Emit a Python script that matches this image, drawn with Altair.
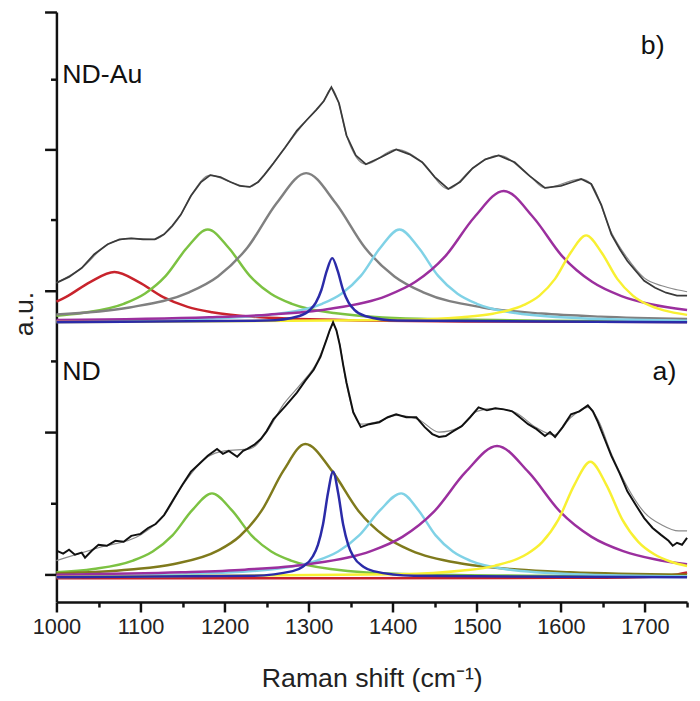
import altair as alt
import pandas as pd

# ---------------- Upper spectrum: ND-Au (b) ----------------
AU_RED_X = [1000, 1011, 1040, 1069, 1098, 1127, 1156, 1185, 1243, 1359, 1500, 1750]
AU_RED_Y = [303, 307.5, 322.8, 333, 322.8, 307.5, 297.7, 292.2, 287.1, 284, 282.9, 282.3]

AU_GREEN_X = [1000, 1030, 1080, 1105, 1130, 1155, 1180, 1205, 1230, 1255, 1280, 1330, 1430, 1750]
AU_GREEN_Y = [288.7, 291.4, 300.8, 311, 329, 357.2, 376, 357.2, 329, 311, 300.8, 291.4, 285.6, 282.7]

AU_GRAY_X = [1000, 1087, 1157, 1192, 1227, 1262, 1297, 1332, 1367, 1402, 1437, 1507, 1577, 1647, 1750]
AU_GRAY_Y = [290, 297.1, 312.2, 328.5, 357.5, 402.8, 433, 402.8, 357.5, 328.5, 312.2, 297.1, 290.9, 287.8, 285.5]

AU_BLUE_X = [1000, 1250, 1289, 1302, 1308.5, 1315, 1321.5, 1328, 1334.5, 1341, 1347.5, 1354, 1367, 1406, 1750]
AU_BLUE_Y = [282.1, 283.8, 288.5, 295, 302, 314.5, 334, 347, 334, 314.5, 302, 295, 288.5, 283.8, 282.1]

AU_CYAN_X = [1000, 1178, 1270, 1316, 1339, 1362, 1385, 1408, 1431, 1454, 1477, 1500, 1546, 1638, 1750]
AU_CYAN_Y = [283.2, 285.6, 291.4, 300.8, 311, 329, 357.2, 376, 357.2, 329, 311, 300.8, 291.4, 285.6, 283.7]

AU_PURPLE_X = [1000, 1182, 1252, 1322, 1392, 1427, 1462, 1497, 1532, 1567, 1602, 1637, 1672, 1707, 1750]
AU_PURPLE_Y = [284.3, 287.1, 289.8, 295.3, 308.6, 323, 348.5, 388.4, 415, 388.4, 348.5, 323, 308.6, 300.3, 294.5]

AU_YELLOW_X = [1000, 1408, 1482, 1519, 1556, 1574.5, 1593, 1611.5, 1630, 1648.5, 1667, 1685.5, 1704, 1722.5, 1750]
AU_YELLOW_Y = [282.3, 284.4, 287.2, 290.8, 299.6, 309.1, 326, 352.4, 370, 352.4, 326, 309.1, 299.6, 294.1, 289.6]

AU_SPEC_X = [1000, 1015, 1030, 1045, 1061, 1075, 1089, 1103, 1117, 1128, 1138, 1148, 1160, 1172, 1183,
             1195, 1207, 1218, 1230, 1240, 1247, 1258, 1272, 1286, 1298, 1309, 1318, 1327, 1336, 1345,
             1356, 1368, 1386, 1404, 1420, 1435, 1450, 1466, 1480, 1495, 1510, 1526, 1545, 1563, 1581,
             1600, 1614, 1624, 1636, 1648, 1660, 1670, 1679, 1690, 1699, 1712, 1725, 1738, 1750]
AU_SPEC_Y = [322, 328, 337, 351, 361, 366, 367, 366, 366, 371, 380, 391, 410, 424, 431,
             429, 424, 420, 419, 424, 431, 443, 459, 476, 487, 497, 506, 520, 504, 471,
             451, 442, 449, 457, 452, 444, 429, 417, 424, 438, 447, 451, 444, 430, 418,
             420, 424, 427, 422, 401, 371, 356, 344, 333, 324, 317, 312, 309, 309]

AU_FIT_X = [1000, 1030, 1061, 1089, 1117, 1128, 1148, 1160, 1183, 1207, 1230, 1247, 1272, 1298, 1318,
            1327, 1336, 1345, 1368, 1404, 1435, 1466, 1495, 1526, 1563, 1581, 1624, 1636, 1660, 1679,
            1699, 1720, 1738, 1750]
AU_FIT_Y = [322, 337, 361, 367, 366, 371, 391, 410, 431, 424, 419, 431, 459, 487, 506,
            519, 503, 471, 442, 457, 444, 417, 438, 451, 430, 418, 427, 422, 373, 347,
            327, 319, 315, 313]

# ---------------- Lower spectrum: ND (a) ----------------
ND_RED_X = [1000, 1600, 1700, 1730, 1750]
ND_RED_Y = [23, 23.5, 24.5, 26, 29]

ND_GREEN_X = [1000, 1044, 1091, 1114.5, 1138, 1161.5, 1185, 1208.5, 1232, 1255.5, 1279, 1326, 1420, 1750]
ND_GREEN_Y = [29.1, 32.5, 41, 50.2, 66.5, 92, 109, 92, 66.5, 50.2, 41, 32.5, 27.3, 24.6]

ND_OLIVE_X = [1000, 1088, 1140, 1192, 1218, 1244, 1270, 1296, 1327.5, 1359, 1390.5, 1422, 1485, 1548, 1611, 1750]
ND_OLIVE_Y = [28, 31.9, 37.5, 51, 65.6, 91.5, 132, 159, 132, 91.5, 65.6, 51, 37.5, 31.9, 29.2, 26.6]

ND_BLUE_X = [1000, 1233, 1281, 1293, 1305, 1311, 1317, 1323, 1329, 1335, 1341, 1347, 1353, 1365, 1377, 1425, 1750]
ND_BLUE_Y = [24.1, 25.6, 30.3, 34.7, 45.4, 57, 77.5, 109.6, 131, 109.6, 77.5, 57, 45.4, 34.7, 30.3, 25.6, 24.1]

ND_CYAN_X = [1000, 1160, 1260, 1310, 1335, 1360, 1385, 1410, 1430.5, 1451, 1471.5, 1492, 1533, 1615, 1750]
ND_CYAN_Y = [25.2, 27.3, 32.5, 41, 50.2, 66.5, 92, 109, 92, 66.5, 50.2, 41, 32.5, 27.3, 25.2]

ND_PURPLE_X = [1000, 1149, 1224, 1299, 1374, 1411.5, 1449, 1486.5, 1524, 1561.5, 1599, 1636.5, 1674, 1711.5, 1750]
ND_PURPLE_Y = [26.7, 29.1, 31.8, 37.3, 50.6, 65, 90.5, 130.4, 157, 130.4, 90.5, 65, 50.6, 42.3, 37.2]

ND_YELLOW_X = [1000, 1407, 1483, 1521, 1559, 1578, 1597, 1616, 1635, 1654, 1673, 1692, 1711, 1730, 1750]
ND_YELLOW_Y = [24.4, 27.2, 30.9, 35.7, 47.4, 60, 82.5, 117.6, 141, 117.6, 82.5, 60, 47.4, 40.1, 35.5]

ND_SPEC_X = [1000, 1008, 1015, 1022, 1030, 1034, 1042, 1050, 1060, 1070, 1080, 1089, 1100, 1109, 1118,
             1128, 1140, 1150, 1160, 1170, 1180, 1191, 1198, 1205, 1215, 1222, 1227, 1235, 1243, 1250,
             1258, 1272, 1286, 1296, 1306, 1314, 1321, 1325, 1329, 1333, 1337, 1341, 1345, 1353, 1362,
             1372, 1384, 1394, 1404, 1416, 1428, 1438, 1447, 1455, 1463, 1472, 1482, 1492, 1502, 1512,
             1522, 1532, 1542, 1551, 1561, 1571, 1581, 1587, 1593, 1602, 1612, 1622, 1632, 1638, 1644,
             1652, 1660, 1670, 1679, 1690, 1699, 1709, 1719, 1728, 1733, 1738, 1744, 1750]
ND_SPEC_Y = [51, 48, 52, 47, 49, 44, 51, 57, 56, 61, 60, 66, 68, 74, 78,
             87, 104, 118, 131, 139, 147, 154, 149, 152, 146, 152, 154, 158, 164, 172,
             184, 197, 211, 223, 234, 247, 264, 274, 282, 274, 259, 239, 221, 191, 176,
             179, 181, 186, 189, 186, 186, 176, 169, 166, 167, 172, 177, 186, 196, 193,
             195, 194, 192, 186, 179, 174, 167, 171, 166, 176, 189, 192, 198, 192, 181,
             164, 147, 129, 111, 96, 84, 74, 67, 61, 56, 59, 57, 64]

ND_FIT_X = [1000, 1050, 1100, 1130, 1150, 1180, 1200, 1230, 1250, 1270, 1290, 1310, 1322, 1329, 1336,
            1345, 1362, 1384, 1404, 1430, 1455, 1480, 1500, 1520, 1545, 1570, 1592, 1612, 1632, 1645,
            1660, 1680, 1700, 1720, 1740, 1750]
ND_FIT_Y = [41, 54, 67, 89, 117, 146, 152, 154, 171, 199, 219, 242, 266, 280, 264,
            219, 179, 182, 188, 184, 171, 176, 192, 195, 191, 176, 168, 186, 196, 182,
            149, 114, 89, 77, 71, 71]

# ---------------- Labels and ticks ----------------
LABELS = ["ND-Au", "b)", "ND", "a)"]
LABEL_X = [1007, 1695, 1007, 1709]
LABEL_V = [524, 554, 224, 224]

X_TICKS = [1000, 1050, 1100, 1150, 1200, 1250, 1300, 1350, 1400, 1450, 1500, 1550, 1600, 1650, 1700, 1750]
Y_TICKS = [27, 99, 171, 243, 314, 386, 457, 528, 596]

COMP_NAMES = ["au_red", "au_green", "au_gray", "au_cyan", "au_purple", "au_yellow", "au_blue",
              "nd_red", "nd_green", "nd_olive", "nd_cyan", "nd_purple", "nd_yellow", "nd_blue"]
COMP_COLORS = ["#c8232c", "#7cc242", "#808080", "#80d2e6", "#9b2f9e", "#f8f032", "#2b2ba8",
               "#c8232c", "#7cc242", "#7f7a1c", "#80d2e6", "#9b2f9e", "#f8f032", "#2b2ba8"]


def frame(name, xs, ys):
    return pd.DataFrame({"x": xs, "v": ys, "series": name, "i": list(range(len(xs)))})


comp = pd.concat([
    frame("au_red", AU_RED_X, AU_RED_Y),
    frame("au_green", AU_GREEN_X, AU_GREEN_Y),
    frame("au_gray", AU_GRAY_X, AU_GRAY_Y),
    frame("au_cyan", AU_CYAN_X, AU_CYAN_Y),
    frame("au_purple", AU_PURPLE_X, AU_PURPLE_Y),
    frame("au_yellow", AU_YELLOW_X, AU_YELLOW_Y),
    frame("au_blue", AU_BLUE_X, AU_BLUE_Y),
    frame("nd_red", ND_RED_X, ND_RED_Y),
    frame("nd_green", ND_GREEN_X, ND_GREEN_Y),
    frame("nd_olive", ND_OLIVE_X, ND_OLIVE_Y),
    frame("nd_cyan", ND_CYAN_X, ND_CYAN_Y),
    frame("nd_purple", ND_PURPLE_X, ND_PURPLE_Y),
    frame("nd_yellow", ND_YELLOW_X, ND_YELLOW_Y),
    frame("nd_blue", ND_BLUE_X, ND_BLUE_Y),
], ignore_index=True)

fits = pd.concat([
    frame("au_fit", AU_FIT_X, AU_FIT_Y),
    frame("nd_fit", ND_FIT_X, ND_FIT_Y),
], ignore_index=True)

spec_au = frame("au_spec", AU_SPEC_X, AU_SPEC_Y)
spec_nd = frame("nd_spec", ND_SPEC_X, ND_SPEC_Y)

labels = pd.DataFrame({"x": LABEL_X, "v": LABEL_V, "label": LABELS})

FONT = "Liberation Sans"
xscale = alt.Scale(domain=[1000, 1750], nice=False, zero=False)
yscale = alt.Scale(domain=[-1, 596], nice=False, zero=False)

x_axis = alt.Axis(
    orient="bottom", values=X_TICKS, format="d",
    labelExpr="datum.value % 100 === 0 ? datum.label : ''",
    tickSize=10, tickWidth=2.5, tickColor="#111",
    tickDash={"condition": {"test": "datum.value % 100 !== 0", "value": [5, 40]}, "value": []},
    domainColor="#111", domainWidth=2.5, grid=False,
    labelFont=FONT, labelFontSize=22, labelColor="#222", labelPadding=5,
    labelFlush=False, labelOverlap=False,
    titleFont=FONT, titleFontSize=27, titleFontWeight="normal", titleColor="#222",
    titleBaseline="alphabetic", titleY=85,
)
y_axis = alt.Axis(
    orient="left", values=Y_TICKS, labels=False,
    tickSize=12, tickWidth=2.5, tickColor="#111",
    tickDash={"condition": {"test": "indexof([99, 243, 386, 528], datum.value) >= 0", "value": [6, 40]}, "value": []},
    domainColor="#111", domainWidth=2.5, grid=False,
    titleFont=FONT, titleFontSize=27, titleFontWeight="normal", titleColor="#222",
    titleAngle=270, titleBaseline="alphabetic", titleAlign="center", titleX=-24, titleY=305,
)

components = alt.Chart(comp).mark_line(interpolate="monotone", strokeWidth=2.5).encode(
    x=alt.X("x:Q", scale=xscale, axis=x_axis, title="Raman shift (cm⁻¹)"),
    y=alt.Y("v:Q", scale=yscale, axis=y_axis, title="a.u."),
    color=alt.Color("series:N", scale=alt.Scale(domain=COMP_NAMES, range=COMP_COLORS), legend=None),
    order="i:Q",
)

fit_layer = alt.Chart(fits).mark_line(strokeWidth=1.2, color="#8a8a8a", interpolate="monotone").encode(
    x=alt.X("x:Q", scale=xscale),
    y=alt.Y("v:Q", scale=yscale),
    detail="series:N",
    order="i:Q",
)

spec_au_layer = alt.Chart(spec_au).mark_line(strokeWidth=1.8, color="#3a3a3a").encode(
    x=alt.X("x:Q", scale=xscale),
    y=alt.Y("v:Q", scale=yscale),
    order="i:Q",
)

spec_nd_layer = alt.Chart(spec_nd).mark_line(strokeWidth=2, color="#111111").encode(
    x=alt.X("x:Q", scale=xscale),
    y=alt.Y("v:Q", scale=yscale),
    order="i:Q",
)

text_layer = alt.Chart(labels).mark_text(
    align="left", baseline="alphabetic", font=FONT, fontSize=27, color="#111"
).encode(
    x=alt.X("x:Q", scale=xscale),
    y=alt.Y("v:Q", scale=yscale),
    text="label:N",
)

chart = alt.layer(
    components, fit_layer, spec_au_layer, spec_nd_layer, text_layer
).properties(
    width=638, height=597,
    padding={"left": 49, "top": 0, "right": 5, "bottom": 95},
    autosize=alt.AutoSizeParams(type="none"),
    background="white",
).configure_view(stroke=None)

chart.save("out.html", embed_options={"renderer": "svg", "actions": False})
